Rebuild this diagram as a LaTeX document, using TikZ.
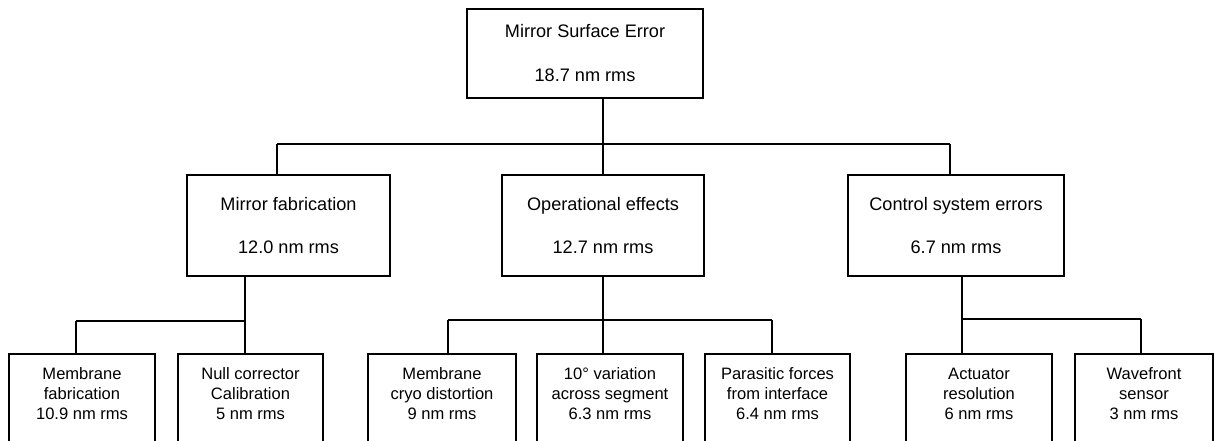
\documentclass[tikz,border=0pt]{standalone}
\usepackage{fontspec}
\setmainfont{Liberation Sans}
\begin{document}
\begin{tikzpicture}[x=0.75pt,y=-0.75pt,
  conn/.style={line width=1.4pt},
  bigbox/.style={draw,line width=1.4pt,inner sep=0pt,align=center,
     font=\fontsize{13.6}{32.5}\selectfont},
  smallbox/.style={draw,line width=1.4pt,inner sep=0pt,align=center,anchor=north,
     text height=49.5pt,text depth=70pt,minimum width=109.5pt,
     font=\fontsize{12.4}{15}\selectfont}]
\useasboundingbox (0,0) rectangle (1214,440);
\fill[white] (0,0) rectangle (1214,440);
\clip (0,0) rectangle (1214,440);
% level 0
\node[bigbox,minimum width=177pt,minimum height=66.75pt,
  font=\fontsize{13.6}{33}\selectfont] (top) at (585,53.5) {Mirror Surface Error\\18.7 nm rms};
% level 1
\node[bigbox,minimum width=152.25pt,minimum height=75.75pt] (mf) at (288.5,225.5) {Mirror fabrication\\12.0 nm rms};
\node[bigbox,minimum width=151.5pt,minimum height=75.75pt] (oe) at (603,225.5) {Operational effects\\12.7 nm rms};
\node[bigbox,minimum width=162pt,minimum height=75.75pt] (cs) at (956,225.5) {Control system errors\\6.7 nm rms};
% level 2
\node[smallbox] (b1) at (82,353) {Membrane\\fabrication\\10.9 nm rms};
\node[smallbox,minimum width=108.75pt] (b2) at (250.5,353) {Null corrector\\Calibration\\5 nm rms};
\node[smallbox,minimum width=111pt] (b3) at (442,353) {Membrane\\cryo distortion\\9 nm rms};
\node[smallbox] (b4) at (610,353) {10° variation\\across segment\\6.3 nm rms};
\node[smallbox,minimum width=108.75pt] (b5) at (777.5,353) {Parasitic forces\\from interface\\6.4 nm rms};
\node[smallbox] (b6) at (979,353) {Actuator\\resolution\\6 nm rms};
\node[smallbox,minimum width=103.5pt] (b7) at (1144,353) {Wavefront\\sensor\\3 nm rms};
% level 0 -> 1
\coordinate (bL) at (277,144);
\coordinate (bR) at (950,144);
\draw[conn] (bL) -- (bR);
\draw[conn] (bL) -- (bL |- mf.north);
\draw[conn] (bR) -- (bR |- cs.north);
\draw[conn] (oe.north |- top.south) -- (oe.north);
% mirror fabrication group
\coordinate (l1) at (76,321);
\coordinate (l2) at (245,321);
\draw[conn] (l1) -- (l2);
\draw[conn] (l1) -- (l1 |- b1.north);
\draw[conn] (l2 |- mf.south) -- (l2 |- b2.north);
% operational effects group
\coordinate (m1) at (448,320);
\coordinate (m2) at (772,320);
\draw[conn] (m1) -- (m2);
\draw[conn] (m1) -- (m1 |- b3.north);
\draw[conn] (m2) -- (m2 |- b5.north);
\draw[conn] (oe.south) -- (oe.south |- b4.north);
% control system group
\coordinate (r1) at (962,319);
\coordinate (r2) at (1141,319);
\draw[conn] (r1) -- (r2);
\draw[conn] (r1 |- cs.south) -- (r1 |- b6.north);
\draw[conn] (r2) -- (r2 |- b7.north);
\end{tikzpicture}
\end{document}
